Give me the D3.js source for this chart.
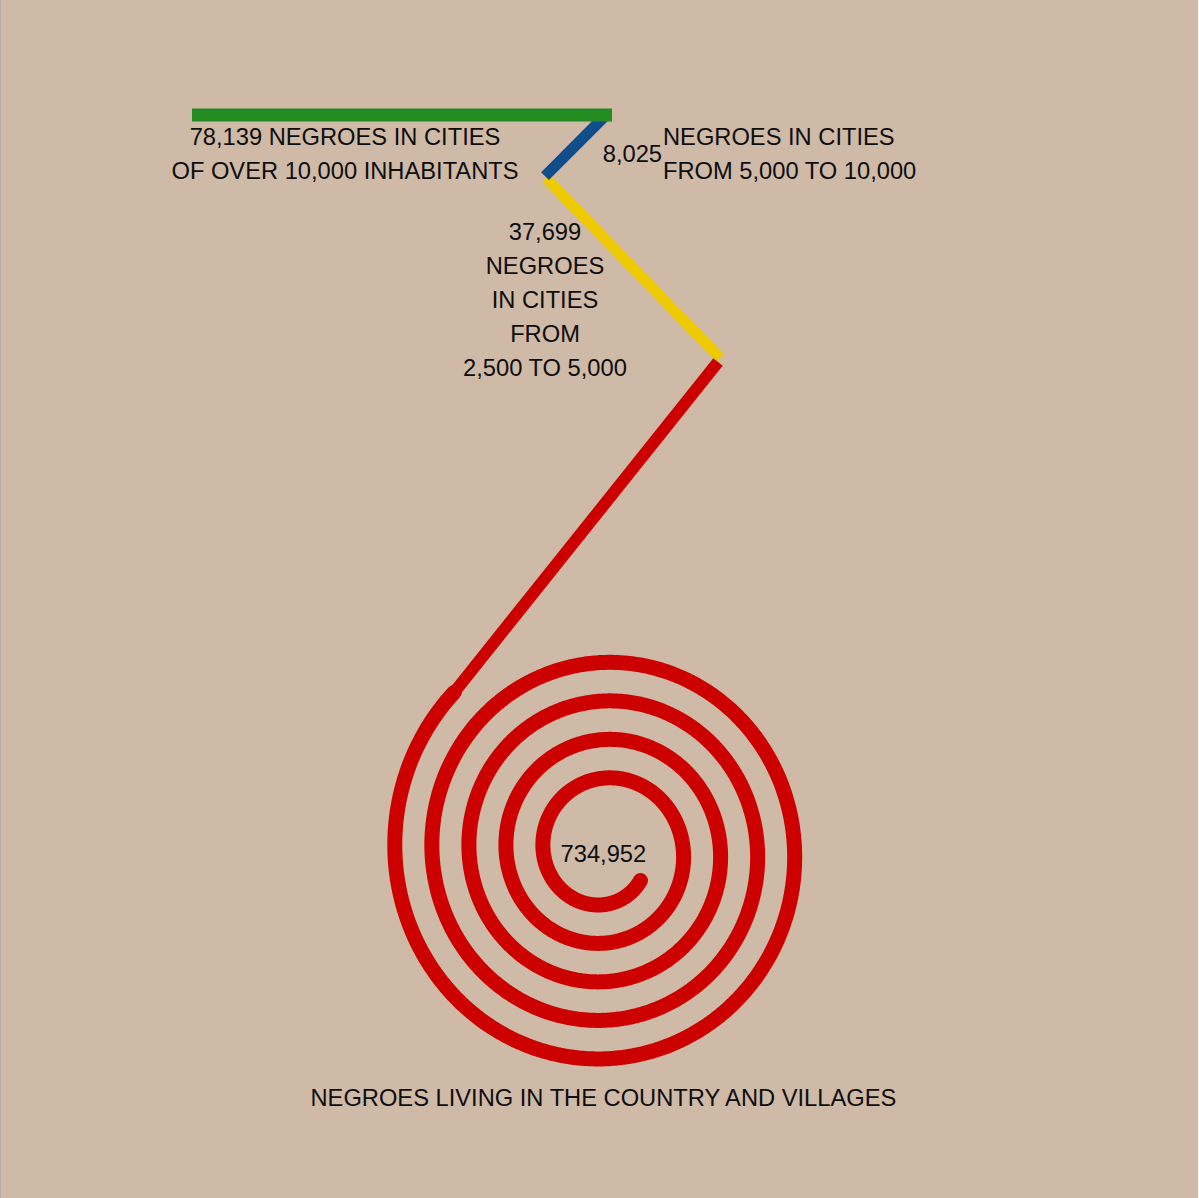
<!DOCTYPE html>
<html>
<head>
<meta charset="utf-8">
<script src="https://cdn.jsdelivr.net/npm/d3@7"></script>
<style>
  html, body { margin: 0; padding: 0; background: #fff; }
  svg { display: block; }
  text { font-family: "Liberation Sans", Arial, sans-serif; font-size: 23.7px; fill: #0d0d0d; }
</style>
</head>
<body>
<div id="chart"></div>
<script>
// data
const groups = ["cities over 10,000", "cities 5,000 to 10,000", "cities 2,500 to 5,000", "country and villages"];
const population = [78139, 8025, 37699, 734952];
const colors = ["#228b22", "#104e8b", "#eec900", "#cd0000"];
const groupText = [
  ["NEGROES IN CITIES", "OF OVER 10,000 INHABITANTS"],
  ["NEGROES IN CITIES", "FROM 5,000 TO 10,000"],
  ["NEGROES", "IN CITIES", "FROM", "2,500 TO 5,000"],
  ["NEGROES LIVING IN THE COUNTRY AND VILLAGES"]
];

const width = 1199, height = 1198;
const fmt = d3.format(",");

// chart units, spiral centre at 0,0
const x = d3.scaleLinear().domain([-10, 10]).range([404, 804]);
const y = d3.scaleLinear().domain([-10, 10]).range([1059, 643]);
const lineStep = 1.635; // one text line in y units

// spiral: r = r0 + k * (t - t0), drawn from outside in
const spiral = { r0: 2.31, k: 0.295, t0: 0.66, t1: 9 * Math.PI + 0.795 };
const spiralPts = d3.range(spiral.t1, spiral.t0, -0.01).concat([spiral.t0]).map(t => {
  const r = spiral.r0 + spiral.k * (t - spiral.t0);
  return [r * Math.cos(t), -r * Math.sin(t)];
});

// straight runs for each group
const runs = [
  [[-20.6, 35.385], [0.4, 35.385]],
  [[0.1, 35.385], [-2.95, 32.45]],
  [[-2.9, 32.36], [5.8, 23.70]],
  [[5.7, 23.51], spiralPts[0]]
];
const widths = [13, 11, 11, 12];
const drawOrder = [2, 3, 1, 0];

const svg = d3.select("#chart").append("svg")
  .attr("width", width)
  .attr("height", height);

svg.append("rect")
  .attr("width", width).attr("height", height)
  .attr("fill", "#cfbaa7");
svg.append("line")
  .attr("x1", 0.5).attr("x2", 0.5).attr("y1", 0).attr("y2", height)
  .attr("stroke", "#b9aea4");
svg.append("line")
  .attr("x1", width - 0.5).attr("x2", width - 0.5).attr("y1", 0).attr("y2", height)
  .attr("stroke", "#fbf8f4");

const line = d3.line().x(d => x(d[0])).y(d => y(d[1]));

const g = svg.append("g");

// spiral first under the straight runs
g.append("path")
  .attr("d", line(spiralPts))
  .attr("fill", "none")
  .attr("stroke", colors[3])
  .attr("stroke-width", 15)
  .attr("stroke-linecap", "round");

drawOrder.forEach(i => {
  g.append("path")
    .attr("d", line(runs[i]))
    .attr("fill", "none")
    .attr("stroke", colors[i])
    .attr("stroke-width", widths[i])
    .attr("stroke-linecap", "butt");
});

// labels
const labels = svg.append("g");

// over 10,000
const t0 = labels.append("text").attr("text-anchor", "middle");
[fmt(population[0]) + " " + groupText[0][0], groupText[0][1]].forEach((s, j) => {
  t0.append("tspan").attr("x", x(-12.95)).attr("y", y(33.94 - j * lineStep * 0.985)).text(s);
});

// 5,000 to 10,000
labels.append("text")
  .attr("text-anchor", "end")
  .attr("x", x(2.9)).attr("y", y(33.14))
  .text(fmt(population[1]));
const t1 = labels.append("text").attr("text-anchor", "start");
groupText[1].forEach((s, j) => {
  t1.append("tspan").attr("x", x(2.95)).attr("y", y(33.94 - j * lineStep)).text(s);
});

// 2,500 to 5,000
const t2 = labels.append("text").attr("text-anchor", "middle");
[fmt(population[2])].concat(groupText[2]).forEach((s, j) => {
  t2.append("tspan").attr("x", x(-2.95)).attr("y", y(29.36 - j * lineStep)).text(s);
});

// country
labels.append("text")
  .attr("text-anchor", "middle")
  .attr("x", x(-0.03)).attr("y", y(-0.52))
  .text(fmt(population[3]));
labels.append("text")
  .attr("text-anchor", "middle")
  .attr("x", x(-0.03)).attr("y", y(-12.28))
  .text(groupText[3][0]);
</script>
</body>
</html>
